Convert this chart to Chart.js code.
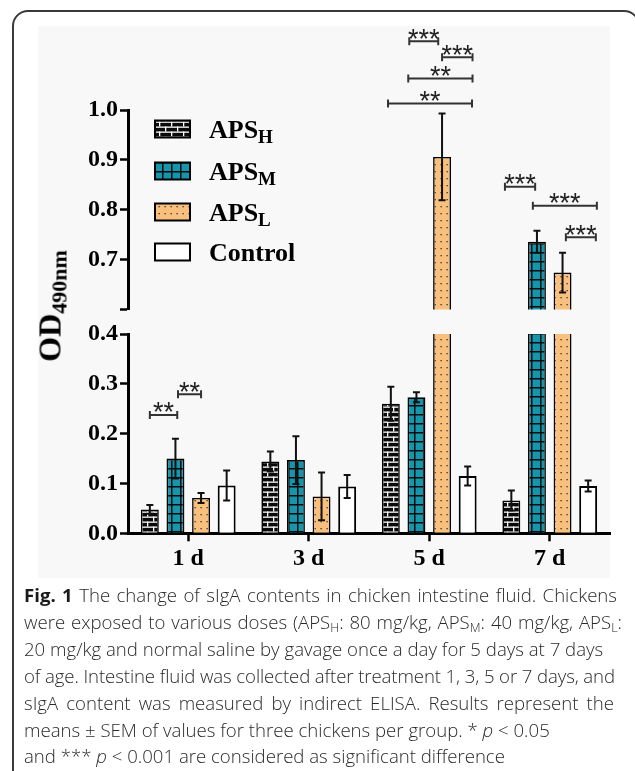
<!DOCTYPE html>
<html><head><meta charset="utf-8">
<script src="https://cdn.jsdelivr.net/npm/chart.js@4.4.1/dist/chart.umd.min.js"></script>
<style>
html,body{margin:0;padding:0;background:#fff;}
#wrap{position:relative;width:635px;height:771px;overflow:hidden;background:#fff;}
#frame{position:absolute;left:12px;top:10px;width:628px;height:800px;border:2px solid #3a3a3a;border-radius:16px;box-sizing:border-box;}
#bg{position:absolute;left:38px;top:26px;width:572px;height:552px;background:#f8f8f8;}
canvas{position:absolute;left:0;top:0;}
#ytitle{position:absolute;left:52px;top:306px;transform:translate(-50%,-50%) rotate(-90deg);font:bold 32px 'Liberation Serif';color:#000;white-space:nowrap;line-height:1;}
#ytitle sub{font-size:22px;vertical-align:-6px;}
#caption{position:absolute;left:24px;top:582px;font:300 18.6px 'Open Sans';line-height:26.9px;color:#2a2a2a;}
#caption div{white-space:nowrap;}
#caption div.j{text-align:justify;text-align-last:justify;}
#caption b{font-weight:700;color:#1a1a1a;}
#caption sub{font-size:12.5px;vertical-align:-3px;line-height:0;}
</style></head>
<body>
<div id="wrap">
  <div id="frame"></div>
  <div id="bg"></div>
  <canvas id="lower" width="635" height="771"></canvas>
  <canvas id="upper" width="635" height="771"></canvas>
  <div id="ytitle">OD<sub>490nm</sub></div>
  <div id="caption">
    <div class="j" style="width:593px"><b>Fig. 1</b> The change of sIgA contents in chicken intestine fluid. Chickens</div>
    <div class="j" style="width:598px">were exposed to various doses (APS<sub>H</sub>: 80 mg/kg, APS<sub>M</sub>: 40 mg/kg, APS<sub>L</sub>:</div>
    <div>20 mg/kg and normal saline by gavage once a day for 5 days at 7 days</div>
    <div class="j" style="width:590px;letter-spacing:-0.1px">of age. Intestine fluid was collected after treatment 1, 3, 5 or 7 days, and</div>
    <div class="j" style="width:590px">sIgA content was measured by indirect ELISA. Results represent the</div>
    <div>means ± SEM of values for three chickens per group. * <i>p</i> &lt; 0.05</div>
    <div>and *** <i>p</i> &lt; 0.001 are considered as significant difference</div>
  </div>
</div>
<script>
// ---- data ----
const categories = ['1 d', '3 d', '5 d', '7 d'];
const seriesNames = ['APS', 'APS', 'APS', 'Control'];
const seriesSubs = ['H', 'M', 'L', ''];
const apsH = [0.048, 0.144, 0.260, 0.066];
const apsM = [0.150, 0.147, 0.273, 0.736];
const apsL = [0.071, 0.074, 0.906, 0.674];
const control = [0.096, 0.094, 0.115, 0.095];
const apsHErr = [0.009, 0.020, 0.034, 0.020];
const apsMErr = [0.040, 0.048, 0.010, 0.022];
const apsLErr = [0.010, 0.048, 0.087, 0.040];
const controlErr = [0.030, 0.023, 0.019, 0.011];
const lowerTicks = [0.0, 0.1, 0.2, 0.3, 0.4];
const upperTicks = [0.6, 0.7, 0.8, 0.9, 1.0];
// significance brackets: category, from bar slot, to bar slot, height (OD), label
const bracketCat = [0, 0, 2, 2, 2, 2, 3, 3, 3];
const bracketFrom = [0, 1.1, 0.72, 2.0, 0.68, -0.11, -0.25, 0.84, 2.13];
const bracketTo = [1.07, 2.0, 1.85, 3.19, 3.19, 3.17, 0.93, 3.34, 3.3];
const bracketY = [0.2375, 0.279, 1.138, 1.106, 1.063, 1.013, 0.846, 0.808, 0.745];
const bracketLabel = ['**', '**', '***', '***', '**', '**', '***', '***', '***'];

const seriesVals = [apsH, apsM, apsL, control];
const seriesErr = [apsHErr, apsMErr, apsLErr, controlErr];

// ---- patterns ----
function makePattern(w, h, draw) {
  const c = document.createElement('canvas'); c.width = w; c.height = h;
  const g = c.getContext('2d'); draw(g, w, h);
  return document.getElementById('upper').getContext('2d').createPattern(c, 'repeat');
}
const brick = makePattern(12, 10, (g) => {
  g.fillStyle = '#0a0a0a'; g.fillRect(0, 0, 12, 10);
  g.fillStyle = '#fff';
  g.fillRect(0, 1.5, 12, 1.3); g.fillRect(0, 6.5, 12, 1.3);
  g.fillRect(3, 1.5, 1.3, 5); g.fillRect(9, 6.5, 1.3, 5); g.fillRect(9, 0, 1.3, 1.5);
});
const grid = makePattern(9, 9, (g) => {
  g.fillStyle = '#1696ac'; g.fillRect(0, 0, 9, 9);
  g.fillStyle = '#0b0b0b'; g.fillRect(0, 0, 9, 1.5); g.fillRect(0, 0, 1.5, 9);
});
const dots = makePattern(6, 7, (g) => {
  g.fillStyle = '#f8c07c'; g.fillRect(0, 0, 6, 7);
  g.fillStyle = '#333'; g.fillRect(2.5, 3, 1.3, 1.3);
});
const fills = [brick, grid, dots, '#ffffff'];

function makeDatasets() {
  return seriesVals.map((vals, i) => ({
    label: seriesNames[i] + seriesSubs[i],
    data: vals,
    backgroundColor: fills[i],
    borderColor: '#000',
    borderWidth: i === 3 ? 2 : 1.6,
    barPercentage: 0.7,
    categoryPercentage: 0.85,
    clip: 0
  }));
}

const tickFont = { family: 'Liberation Serif', weight: 'bold', size: 24 };

const errorBars = {
  id: 'errorBars',
  afterDatasetsDraw(chart) {
    const ctx = chart.ctx, ys = chart.scales.y;
    ctx.save(); ctx.strokeStyle = '#111'; ctx.lineWidth = 2;
    chart.data.datasets.forEach((ds, i) => {
      chart.getDatasetMeta(i).data.forEach((bar, j) => {
        const v = seriesVals[i][j], e = seriesErr[i][j];
        if (v < ys.min || v > ys.max) return;
        const yt = ys.getPixelForValue(v + e), yb = ys.getPixelForValue(v - e), x = bar.x;
        ctx.beginPath();
        ctx.moveTo(x, yt); ctx.lineTo(x, yb);
        ctx.moveTo(x - 3.5, yt); ctx.lineTo(x + 3.5, yt);
        ctx.moveTo(x - 3.5, yb); ctx.lineTo(x + 3.5, yb);
        ctx.stroke();
      });
    });
    ctx.restore();
  }
};

function slotX(chart, cat, s) {
  const x0 = chart.getDatasetMeta(0).data[cat].x;
  const x1 = chart.getDatasetMeta(1).data[cat].x;
  return x0 + s * (x1 - x0);
}

const brackets = {
  id: 'brackets',
  afterDatasetsDraw(chart, args, opts) {
    const ctx = chart.ctx, ys = chart.scales.y;
    ctx.save();
    bracketY.forEach((yv, k) => {
      const isUpper = yv > 0.5;
      if (isUpper !== opts.upper) return;
      const xa = slotX(chart, bracketCat[k], bracketFrom[k]);
      const xb = slotX(chart, bracketCat[k], bracketTo[k]);
      const y = ys.getPixelForValue(yv);
      ctx.strokeStyle = '#333'; ctx.lineWidth = 2;
      ctx.beginPath();
      ctx.moveTo(xa, y); ctx.lineTo(xb, y);
      ctx.moveTo(xa, y - 4); ctx.lineTo(xa, y + 4);
      ctx.moveTo(xb, y - 4); ctx.lineTo(xb, y + 4);
      ctx.stroke();
      const lbl = bracketLabel[k], n = lbl.length, step = 10.5, fs = 27;
      const cx = (xa + xb) / 2, cy = y - 9;
      ctx.fillStyle = '#222'; ctx.font = fs + 'px "Liberation Sans"';
      ctx.textAlign = 'center'; ctx.textBaseline = 'alphabetic';
      for (let c = 0; c < n; c++) {
        ctx.fillText('*', cx + (c - (n - 1) / 2) * step, cy + 0.575 * fs);
      }
    });
    ctx.restore();
  }
};

const legendPlugin = {
  id: 'customLegend',
  afterDraw(chart, args, opts) {
    if (!opts.show) return;
    const ctx = chart.ctx;
    ctx.save();
    const centers = [129, 171, 212, 252];
    seriesNames.forEach((name, i) => {
      const cy = centers[i];
      ctx.fillStyle = fills[i];
      ctx.fillRect(155, cy - 8.5, 35, 17);
      ctx.strokeStyle = '#000'; ctx.lineWidth = 2;
      ctx.strokeRect(155, cy - 8.5, 35, 17);
      ctx.fillStyle = '#000';
      ctx.textAlign = 'left'; ctx.textBaseline = 'alphabetic';
      ctx.font = 'bold 26px "Liberation Serif"';
      ctx.fillText(name, 209, cy + 8.5);
      if (seriesSubs[i]) {
        const w = ctx.measureText(name).width;
        ctx.font = 'bold 19px "Liberation Serif"';
        ctx.fillText(seriesSubs[i], 209 + w, cy + 14);
      }
    });
    ctx.restore();
  }
};

function yScale(min, max, ticksList) {
  return {
    min: min, max: max,
    afterFit(s) { s.width = 128; },
    afterBuildTicks(s) { s.ticks = ticksList.map(v => ({ value: v })); },
    ticks: {
      font: tickFont, color: '#000', padding: 2,
      callback: (v) => (min > 0.5 && v < 0.65) ? '' : Number(v).toFixed(1)
    },
    grid: { drawOnChartArea: false, drawTicks: true, tickLength: 8, tickWidth: 2.5, tickColor: '#000', color: '#000' },
    border: { display: true, width: 3, color: '#000' }
  };
}

Chart.defaults.font.family = 'Liberation Serif';

new Chart(document.getElementById('upper'), {
  type: 'bar',
  data: { labels: categories, datasets: makeDatasets() },
  options: {
    responsive: false, animation: false, devicePixelRatio: 1,
    layout: { padding: { left: 0, right: 25, top: 110, bottom: 461.5 } },
    plugins: { legend: { display: false }, tooltip: { enabled: false },
      brackets: { upper: true }, customLegend: { show: true } },
    scales: {
      x: { display: false, offset: true },
      y: yScale(0.6, 1.0, upperTicks)
    }
  },
  plugins: [errorBars, brackets, legendPlugin]
});

new Chart(document.getElementById('lower'), {
  type: 'bar',
  data: { labels: categories, datasets: makeDatasets() },
  options: {
    responsive: false, animation: false, devicePixelRatio: 1,
    layout: { padding: { left: 0, right: 25, top: 334, bottom: 197.7 } },
    plugins: { legend: { display: false }, tooltip: { enabled: false },
      brackets: { upper: false }, customLegend: { show: false } },
    scales: {
      x: {
        offset: true,
        afterFit(s) { s.height = 40; },
        ticks: { font: tickFont, color: '#000', padding: 3 },
        grid: { offset: false, drawOnChartArea: false, tickLength: 8, tickWidth: 2.5, tickColor: '#000', color: '#000' },
        border: { display: true, width: 3, color: '#000' }
      },
      y: yScale(0, 0.4, lowerTicks)
    }
  },
  plugins: [errorBars, brackets, legendPlugin]
});
</script>
</body></html>
